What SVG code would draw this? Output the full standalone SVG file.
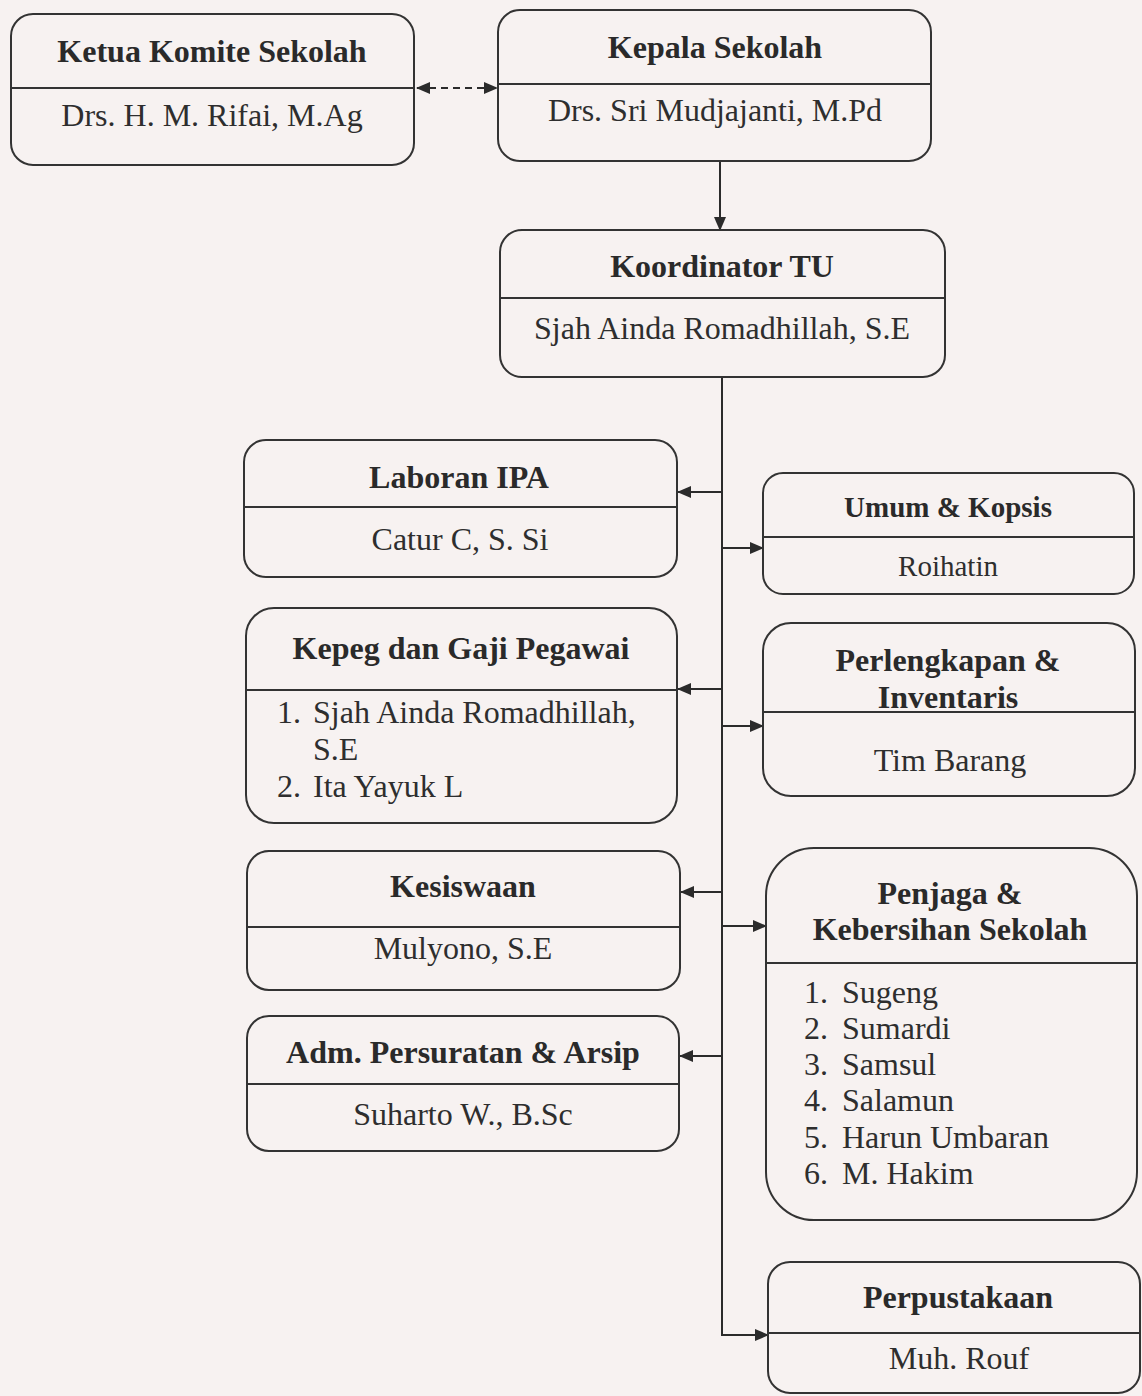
<svg xmlns="http://www.w3.org/2000/svg" width="1142" height="1396" viewBox="0 0 1142 1396">
<defs>
<marker id="ah" markerUnits="userSpaceOnUse" markerWidth="14" markerHeight="12" refX="13" refY="6" orient="auto-start-reverse">
<path d="M0,0 L14,6 L0,12 Z" fill="#2b2b2b"/>
</marker>
<style>
.box{fill:none;stroke:#333;stroke-width:2}
.div{stroke:#333;stroke-width:2}
.t{font-family:"Liberation Serif","Times New Roman",serif;font-weight:bold;fill:#2a2a2a;text-anchor:middle;font-size:32px}
.s{font-family:"Liberation Serif","Times New Roman",serif;fill:#2e2e2e;text-anchor:middle;font-size:32px}
.l{font-family:"Liberation Serif","Times New Roman",serif;fill:#2e2e2e;font-size:32px}
.c{stroke:#2b2b2b;stroke-width:2;fill:none}
</style>
</defs>
<rect width="1142" height="1396" fill="#f7f2f1"/>

<g id="connectors">
<line class="c" x1="417" y1="88" x2="497" y2="88" stroke-dasharray="7,5" marker-start="url(#ah)" marker-end="url(#ah)"/>
<line class="c" x1="720" y1="161" x2="720" y2="230" marker-end="url(#ah)"/>
<polyline class="c" points="722,377 722,1335 768,1335" marker-end="url(#ah)"/>
<line class="c" x1="722" y1="492" x2="678" y2="492" marker-end="url(#ah)"/>
<line class="c" x1="722" y1="548" x2="763" y2="548" marker-end="url(#ah)"/>
<line class="c" x1="722" y1="689" x2="678" y2="689" marker-end="url(#ah)"/>
<line class="c" x1="722" y1="726" x2="763" y2="726" marker-end="url(#ah)"/>
<line class="c" x1="722" y1="892" x2="681" y2="892" marker-end="url(#ah)"/>
<line class="c" x1="722" y1="926" x2="766" y2="926" marker-end="url(#ah)"/>
<line class="c" x1="722" y1="1056" x2="680" y2="1056" marker-end="url(#ah)"/>
</g>

<g id="ketua-komite">
<rect class="box" x="11" y="14" width="403" height="151" rx="22"/>
<line class="div" x1="11" y1="88" x2="414" y2="88"/>
<text class="t" x="212" y="62">Ketua Komite Sekolah</text>
<text class="s" x="212" y="126">Drs. H. M. Rifai, M.Ag</text>
</g>

<g id="kepala-sekolah">
<rect class="box" x="498" y="10" width="433" height="151" rx="22"/>
<line class="div" x1="498" y1="84" x2="931" y2="84"/>
<text class="t" x="715" y="58">Kepala Sekolah</text>
<text class="s" x="715" y="121">Drs. Sri Mudjajanti, M.Pd</text>
</g>

<g id="koordinator-tu">
<rect class="box" x="500" y="230" width="445" height="147" rx="22"/>
<line class="div" x1="500" y1="298" x2="945" y2="298"/>
<text class="t" x="722" y="277">Koordinator TU</text>
<text class="s" x="722" y="339">Sjah Ainda Romadhillah, S.E</text>
</g>

<g id="laboran-ipa">
<rect class="box" x="244" y="440" width="433" height="137" rx="22"/>
<line class="div" x1="244" y1="507" x2="677" y2="507"/>
<text class="t" x="459" y="488">Laboran IPA</text>
<text class="s" x="460" y="550">Catur C, S. Si</text>
</g>

<g id="umum-kopsis">
<rect class="box" x="763" y="473" width="371" height="121" rx="20"/>
<line class="div" x1="763" y1="537" x2="1134" y2="537"/>
<text class="t" x="948" y="517" style="font-size:29px">Umum &amp; Kopsis</text>
<text class="s" x="948" y="576" style="font-size:29px">Roihatin</text>
</g>

<g id="kepeg-gaji">
<rect class="box" x="246" y="608" width="431" height="215" rx="28"/>
<line class="div" x1="246" y1="690" x2="677" y2="690"/>
<text class="t" x="461" y="659">Kepeg dan Gaji Pegawai</text>
<text class="l" x="277" y="723">1.</text>
<text class="l" x="313" y="723">Sjah Ainda Romadhillah,</text>
<text class="l" x="313" y="760">S.E</text>
<text class="l" x="277" y="797">2.</text>
<text class="l" x="313" y="797">Ita Yayuk L</text>
</g>

<g id="perlengkapan">
<rect class="box" x="763" y="623" width="372" height="173" rx="28"/>
<line class="div" x1="763" y1="712" x2="1135" y2="712"/>
<text class="t" x="948" y="671">Perlengkapan &amp;</text>
<text class="t" x="948" y="708">Inventaris</text>
<text class="s" x="950" y="771">Tim Barang</text>
</g>

<g id="kesiswaan">
<rect class="box" x="247" y="851" width="433" height="139" rx="22"/>
<line class="div" x1="247" y1="927" x2="680" y2="927"/>
<text class="t" x="463" y="897">Kesiswaan</text>
<text class="s" x="463" y="959">Mulyono, S.E</text>
</g>

<g id="adm-persuratan">
<rect class="box" x="247" y="1016" width="432" height="135" rx="22"/>
<line class="div" x1="247" y1="1084" x2="679" y2="1084"/>
<text class="t" x="463" y="1063">Adm. Persuratan &amp; Arsip</text>
<text class="s" x="463" y="1125">Suharto W., B.Sc</text>
</g>

<g id="penjaga">
<rect class="box" x="766" y="848" width="371" height="372" rx="48"/>
<line class="div" x1="766" y1="963" x2="1137" y2="963"/>
<text class="t" x="950" y="904">Penjaga &amp;</text>
<text class="t" x="950" y="940">Kebersihan Sekolah</text>
<text class="l" x="804" y="1003">1.</text><text class="l" x="842" y="1003">Sugeng</text>
<text class="l" x="804" y="1039">2.</text><text class="l" x="842" y="1039">Sumardi</text>
<text class="l" x="804" y="1075">3.</text><text class="l" x="842" y="1075">Samsul</text>
<text class="l" x="804" y="1111">4.</text><text class="l" x="842" y="1111">Salamun</text>
<text class="l" x="804" y="1148">5.</text><text class="l" x="842" y="1148">Harun Umbaran</text>
<text class="l" x="804" y="1184">6.</text><text class="l" x="842" y="1184">M. Hakim</text>
</g>

<g id="perpustakaan">
<rect class="box" x="768" y="1262" width="372" height="131" rx="22"/>
<line class="div" x1="768" y1="1333" x2="1140" y2="1333"/>
<text class="t" x="958" y="1308">Perpustakaan</text>
<text class="s" x="959" y="1369">Muh. Rouf</text>
</g>
</svg>
